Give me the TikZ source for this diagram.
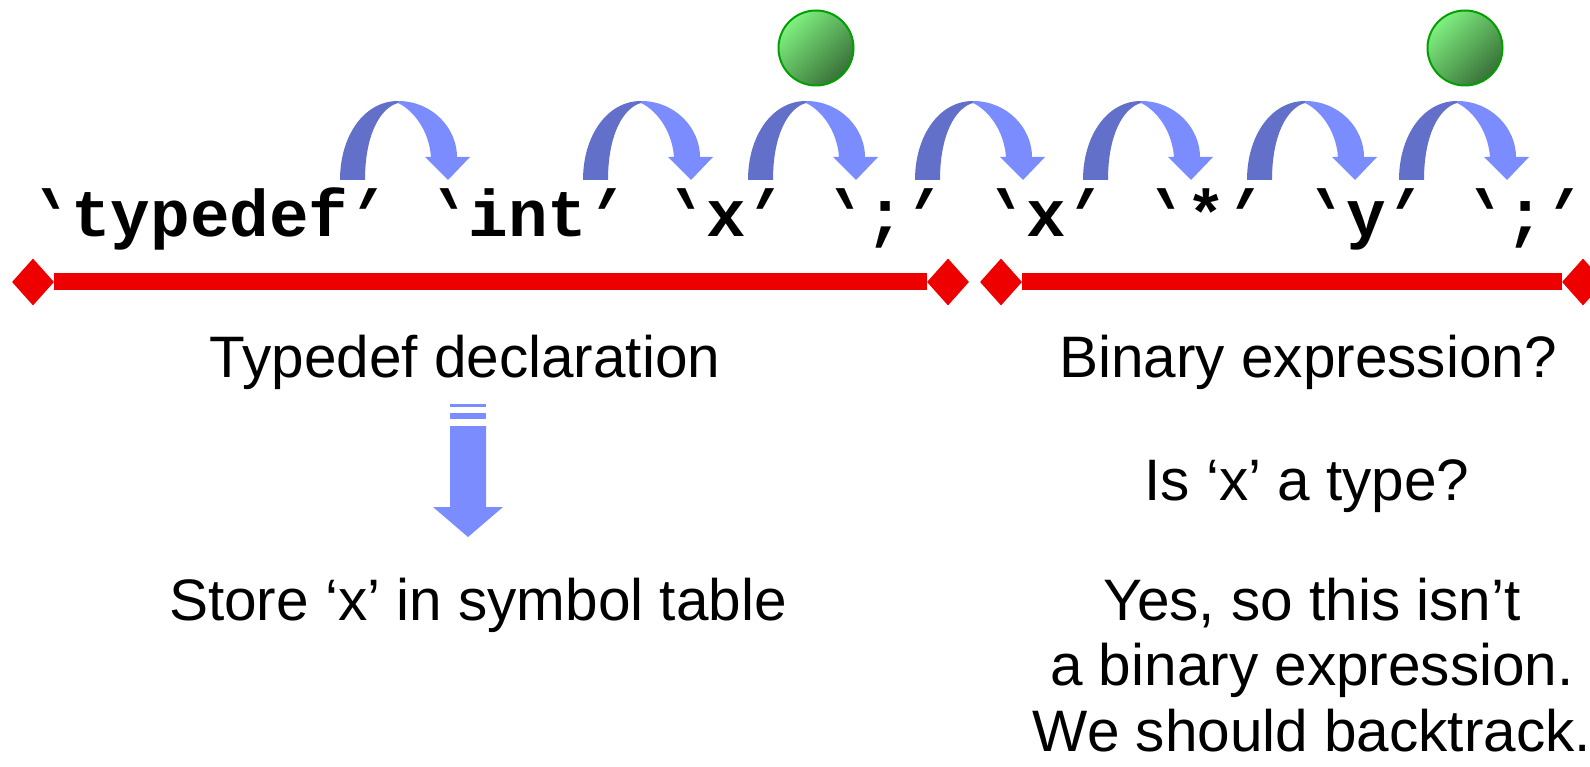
\documentclass[tikz,border=0pt]{standalone}
\usepackage{fontspec}
\setmainfont{Liberation Sans}
\newfontfamily\codefont{Liberation Mono}
% slanted apostrophes serve as the opening and closing token quotes
\newfontfamily\openqfont{Liberation Mono}[FakeSlant=-0.5]
\newfontfamily\closeqfont{Liberation Mono}[FakeSlant=0.5]
\usetikzlibrary{shapes.geometric}

\definecolor{hopdark}{RGB}{99,112,201}
\definecolor{hoplight}{RGB}{123,140,255}
\definecolor{barred}{RGB}{238,0,0}
\definecolor{ballrim}{RGB}{0,160,0}
\definecolor{balltop}{RGB}{128,240,128}
\definecolor{ballbot}{RGB}{56,112,56}

% the slant moves the high glyph sideways; kerns bring it back over its cell
\newcommand{\gq}{{\openqfont\bfseries\kern0.29em'\kern-0.29em}}
\newcommand{\aq}{{\closeqfont\bfseries\kern-0.29em'\kern0.29em}}

\tikzset{
  tok/.style={font=\codefont\bfseries\fontsize{66}{70}\selectfont, inner sep=0pt, anchor=base},
  note/.style={font=\fontsize{58.5}{65.5}\selectfont, inner sep=0pt, anchor=base, align=center},
  ball/.style={circle, minimum size=75pt, inner sep=0pt, draw=ballrim, line width=2pt,
    top color=balltop, bottom color=ballbot, shading angle=45},
  bardiamond/.style={diamond, fill=barred, minimum width=42pt, minimum height=47pt, inner sep=0pt},
  barline/.style={draw=barred, line width=17pt},
  % curved "hop" arrow: shaded back half, light front half with head
  hop/.pic={
    \fill[hopdark] (0,0) .. controls (0,-44) and (24,-79) .. (58,-79) -- (58,-77)
      .. controls (40,-72) and (25,-45) .. (25,0) -- cycle;
    \fill[hoplight] (58,-79) .. controls (92,-79) and (117,-52) .. (117,-23)
      -- (130,-23) -- (108,0) -- (85,-23) -- (91,-23)
      .. controls (89,-50) and (73,-70) .. (58,-77) -- cycle;
  }
}

\begin{document}
\begin{tikzpicture}[x=1pt,y=-1pt]
\useasboundingbox (0,0) rectangle (1590,767);
\clip (0,0) rectangle (1590,767);

% token stream
\node[tok] (t1) at (210,237) {\gq typedef\aq};
\node[tok] (t2) at (528,237) {\gq int\aq};
\node[tok] (t3) at (726,237) {\gq x\aq};
\node[tok] (t4) at (885,237) {\gq;\aq};
\node[tok] (t5) at (1046,237) {\gq x\aq};
\node[tok] (t6) at (1206,237) {\gq*\aq};
\node[tok] (t7) at (1366,237) {\gq y\aq};
\node[tok] (t8) at (1525,237) {\gq;\aq};

% parser steps
\pic at (340,180) {hop};
\pic at (583,180) {hop};
\pic at (748,180) {hop};
\pic at (915,180) {hop};
\pic at (1083,180) {hop};
\pic at (1247,180) {hop};
\pic at (1399,180) {hop};

% decision points
\node[ball] (g1) at (816,48) {};
\node[ball] (g2) at (1465,48) {};

% spans of the two readings
\node[bardiamond] (d1) at (33,282) {};
\node[bardiamond] (d2) at (948,282) {};
\node[bardiamond] (d3) at (1001,282) {};
\node[bardiamond] (d4) at (1583,282) {};
\draw[barline] (d1) -- (d2);
\draw[barline] (d3) -- (d4);

% captions
\node[note] (decl) at (465,377) {Typedef declaration};
\node[note] (store) at (478,620) {Store ‘x’ in symbol table};
\node[note] (bin) at (1308,377) {Binary expression?};
\node[note] (istype) at (1307,500) {Is ‘x’ a type?};
\node[note] (yes) at (1312,751) {Yes, so this isn’t\\a binary expression.\\We should backtrack.};

% consequence arrow
\fill[hoplight] (450,404) rectangle (486,407);
\fill[hoplight] (450,413) rectangle (486,419);
\fill[hoplight] (450,426) -- (486,426) -- (486,507) -- (503,507) -- (468,537)
  -- (433,507) -- (450,507) -- cycle;
\end{tikzpicture}
\end{document}
